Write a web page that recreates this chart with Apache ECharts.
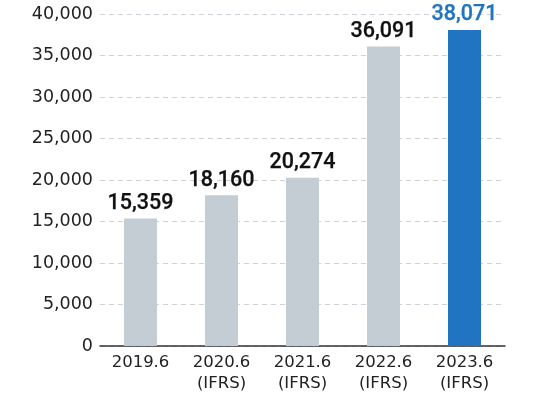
<!DOCTYPE html>
<html><head><meta charset="utf-8">
<script src="https://cdn.jsdelivr.net/npm/echarts@6/dist/echarts.min.js"></script>
<style>html,body{margin:0;padding:0;background:#fff}#c{width:543px;height:394px}</style>
</head><body><div id="c"></div>
<script>
const categories = ["2019.6", "2020.6\n(IFRS)", "2021.6\n(IFRS)", "2022.6\n(IFRS)", "2023.6\n(IFRS)"];
const values = [15359, 18160, 20274, 36091, 38071];
const highlightIndex = 4;

const chart = echarts.init(document.getElementById('c'));
chart.setOption({
  animation: false,
  grid: {left: 100, right: 38, top: 14, bottom: 46},
  xAxis: {
    type: 'category', data: categories,
    axisTick: {show: false},
    axisLine: {lineStyle: {color: '#333', width: 1.5}},
    axisLabel: {color: '#222', fontSize: 16.5, fontFamily: 'DejaVu Sans', lineHeight: 21, margin: 6}
  },
  yAxis: {
    type: 'value', min: 0, max: 40000, interval: 5000,
    axisLabel: {color: '#222', fontSize: 17.5, fontFamily: 'DejaVu Sans', margin: 7,
      formatter: v => v.toLocaleString('en-US')},
    splitLine: {lineStyle: {color: '#cbd2d9', type: [5, 4], width: 1.2}}
  },
  series: [{
    type: 'bar', barWidth: 33,
    data: values.map((v, i) => {
      const c = i === highlightIndex ? '#2174c1' : '#111';
      return {
        value: v,
        itemStyle: {color: i === highlightIndex ? '#2174c1' : '#c5cdd4'},
        label: {color: c, textBorderColor: c, textBorderWidth: 0.25}
      };
    }),
    label: {show: true, position: 'top', distance: 4, fontSize: 21.5, fontWeight: 500,
      fontFamily: 'Roboto', formatter: p => p.value.toLocaleString('en-US')}
  }]
});
</script></body></html>
